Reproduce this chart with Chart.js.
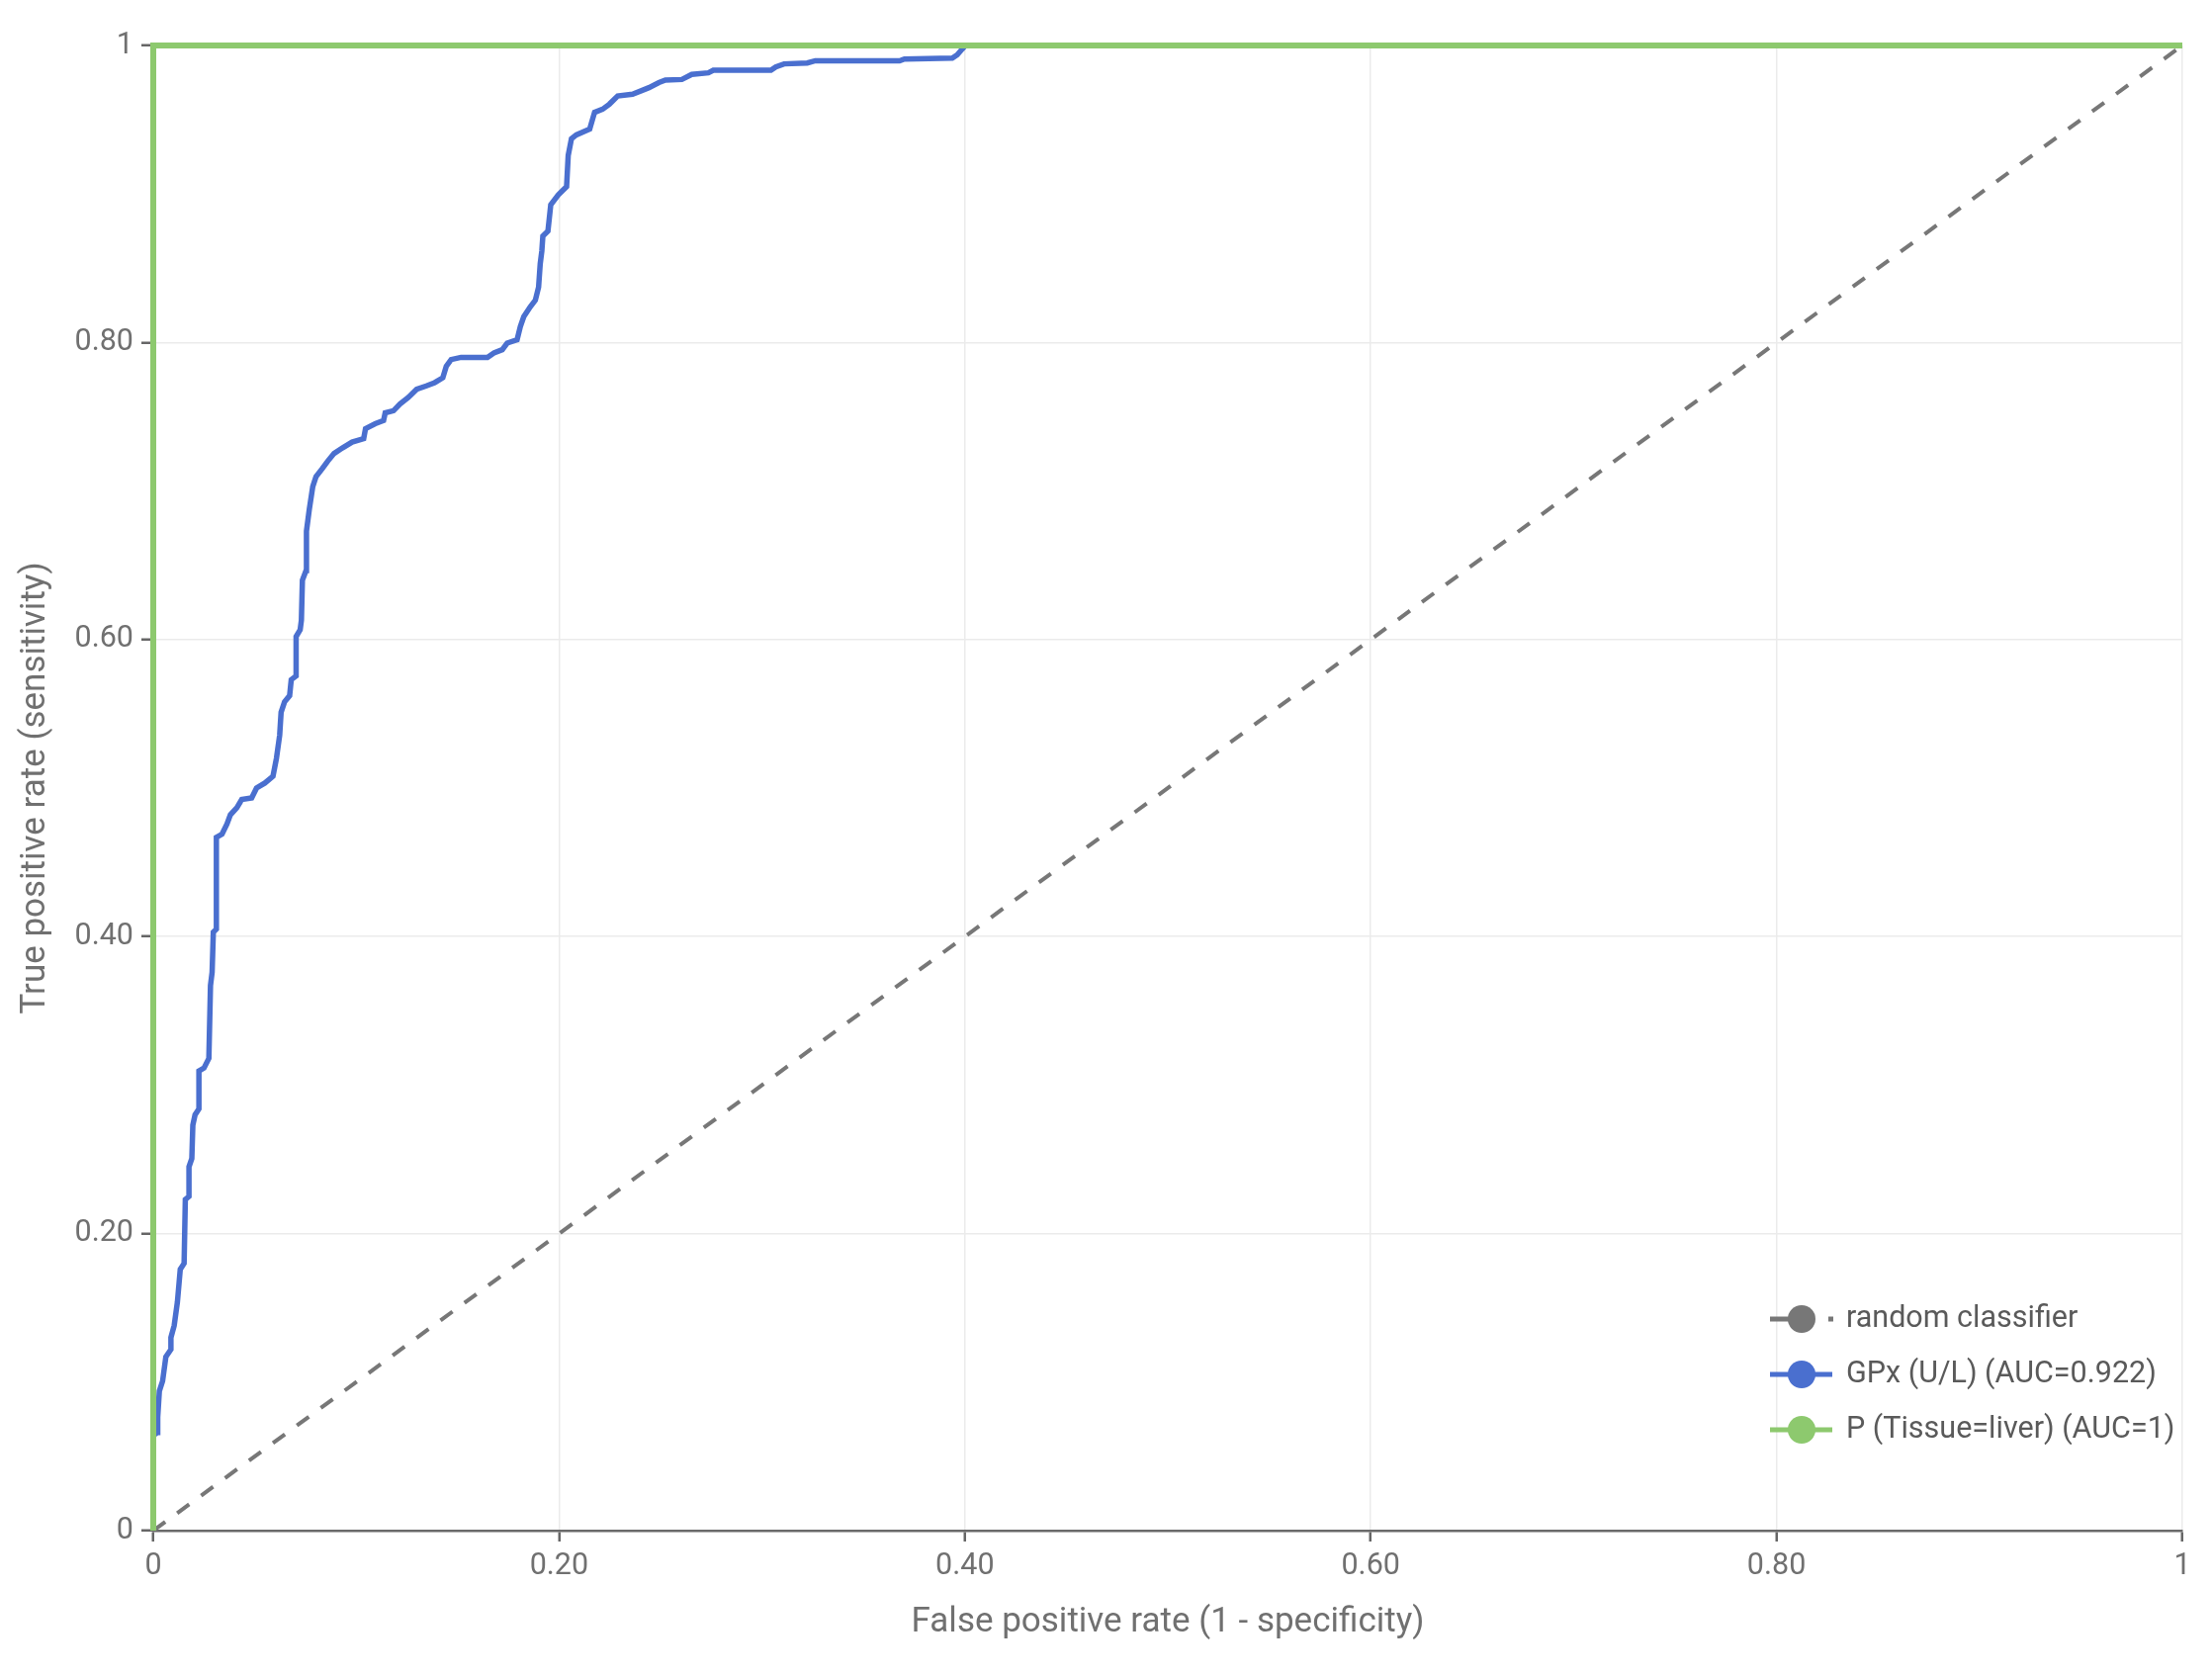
<!DOCTYPE html>
<html>
<head>
<meta charset="utf-8">
<script src="https://cdn.jsdelivr.net/npm/chart.js@4"></script>
<style>
  html, body { margin: 0; padding: 0; background: #fff; }
  #wrap { width: 2237px; height: 1694px; position: relative; }
</style>
</head>
<body>
<div id="wrap"><canvas id="c"></canvas></div>
<script>
// ---- data ----
const seriesNames = ["random classifier", "GPx (U/L) (AUC=0.922)", "P (Tissue=liver) (AUC=1)"];
const axisTicks = [0, 0.2, 0.4, 0.6, 0.8, 1];

const randomFPR = [0, 1];
const randomTPR = [0, 1];

const tissueFPR = [0, 0, 1];
const tissueTPR = [0, 1, 1];

const gpxFPR = [0, 0, 0.002, 0.0022, 0.003, 0.0046, 0.0062, 0.0087, 0.0087, 0.0103, 0.0119, 0.0133, 0.0152, 0.0158, 0.0176, 0.0176, 0.019, 0.0195, 0.0206, 0.0225, 0.0225, 0.025, 0.0274, 0.0282, 0.029, 0.0296, 0.0311, 0.0311, 0.0339, 0.0363, 0.038, 0.0412, 0.0436, 0.0485, 0.0509, 0.055, 0.059, 0.0607, 0.0623, 0.063, 0.0647, 0.0672, 0.068, 0.0704, 0.0704, 0.0724, 0.073, 0.0735, 0.0753, 0.0755, 0.0769, 0.0786, 0.0802, 0.0834, 0.0859, 0.0891, 0.0932, 0.098, 0.1037, 0.1046, 0.1094, 0.1135, 0.1143, 0.1184, 0.1216, 0.1257, 0.1298, 0.1346, 0.1387, 0.1427, 0.1444, 0.1468, 0.1517, 0.1647, 0.1679, 0.172, 0.1744, 0.1793, 0.1809, 0.1826, 0.1858, 0.1883, 0.1899, 0.1907, 0.1915, 0.192, 0.1945, 0.1959, 0.1996, 0.2037, 0.2045, 0.2061, 0.2085, 0.2151, 0.2175, 0.2215, 0.2248, 0.2289, 0.2362, 0.241, 0.2443, 0.2492, 0.2524, 0.2605, 0.2654, 0.2736, 0.276, 0.3044, 0.3068, 0.3109, 0.3223, 0.3263, 0.3678, 0.3702, 0.3938, 0.3962, 0.3986, 0.4003, 1];
const gpxTPR = [0, 0.064, 0.066, 0.0765, 0.094, 0.1007, 0.117, 0.122, 0.130, 0.138, 0.154, 0.176, 0.180, 0.223, 0.225, 0.245, 0.2505, 0.273, 0.280, 0.284, 0.3095, 0.3115, 0.318, 0.367, 0.376, 0.403, 0.405, 0.4668, 0.469, 0.4757, 0.482, 0.4868, 0.4923, 0.4934, 0.5, 0.5034, 0.508, 0.52, 0.5356, 0.551, 0.558, 0.5622, 0.573, 0.5755, 0.602, 0.6066, 0.613, 0.64, 0.6465, 0.673, 0.6876, 0.703, 0.7097, 0.7153, 0.72, 0.7253, 0.729, 0.733, 0.7353, 0.742, 0.7453, 0.7475, 0.7526, 0.7541, 0.7586, 0.763, 0.7685, 0.7708, 0.773, 0.7763, 0.784, 0.7885, 0.79, 0.79, 0.793, 0.7952, 0.7996, 0.8018, 0.8107, 0.8174, 0.824, 0.8285, 0.8373, 0.853, 0.8617, 0.8717, 0.875, 0.8928, 0.8994, 0.905, 0.926, 0.9372, 0.9398, 0.9438, 0.955, 0.9571, 0.9605, 0.966, 0.9672, 0.9698, 0.9716, 0.975, 0.9767, 0.9771, 0.9805, 0.9816, 0.9833, 0.9833, 0.9856, 0.9876, 0.9882, 0.9897, 0.9897, 0.9909, 0.9915, 0.9937, 0.9975, 1, 1];

const xTitle = "False positive rate (1 - specificity)";
const yTitle = "True positive rate (sensitivity)";

// ---- styles ----
const colGray = "#777777";
const colBlue = "#4a6fcf";
const colGreen = "#8dc96e";
const FONT = "Roboto";

function pts(xs, ys) { return xs.map((x, i) => ({ x: x, y: ys[i] })); }
function fmt(v) {
  if (Math.abs(v) < 1e-9) return "0";
  if (Math.abs(v - 1) < 1e-9) return "1";
  return v.toFixed(2);
}

const legendItems = [
  { text: seriesNames[0], color: colGray, dashed: true },
  { text: seriesNames[1], color: colBlue, dashed: false },
  { text: seriesNames[2], color: colGreen, dashed: false }
];

const legendPlugin = {
  id: "insideLegend",
  afterDraw(chart) {
    const ctx = chart.ctx;
    const x0 = 1790, x1 = 1853, cx = 1822, tx = 1867;
    const rows = [1334, 1390, 1446];
    ctx.save();
    legendItems.forEach((it, i) => {
      const y = rows[i];
      ctx.strokeStyle = it.color;
      ctx.lineWidth = 5;
      if (it.dashed) {
        ctx.beginPath(); ctx.moveTo(x0, y); ctx.lineTo(cx, y); ctx.stroke();
        ctx.beginPath(); ctx.moveTo(1849, y); ctx.lineTo(1854, y); ctx.stroke();
      } else {
        ctx.beginPath(); ctx.moveTo(x0, y); ctx.lineTo(x1, y); ctx.stroke();
      }
      ctx.fillStyle = it.color;
      ctx.beginPath(); ctx.arc(cx, y, 14, 0, Math.PI * 2); ctx.fill();
      ctx.fillStyle = "#5a5a5a";
      ctx.font = "30.5px " + FONT;
      ctx.textBaseline = "middle";
      ctx.textAlign = "left";
      ctx.fillText(it.text, tx, y);
    });
    ctx.restore();
  }
};

new Chart(document.getElementById("c"), {
  type: "line",
  data: {
    datasets: [
      { label: seriesNames[2], data: pts(tissueFPR, tissueTPR), borderColor: colGreen, backgroundColor: colGreen, borderWidth: 6, pointRadius: 0, tension: 0, fill: false, clip: 6 },
      { label: seriesNames[1], data: pts(gpxFPR, gpxTPR), borderColor: colBlue, backgroundColor: colBlue, borderWidth: 5.5, pointRadius: 0, tension: 0, fill: false, clip: 6 },
      { label: seriesNames[0], data: pts(randomFPR, randomTPR), borderColor: colGray, backgroundColor: colGray, borderWidth: 4, borderDash: [15, 15], pointRadius: 0, tension: 0, fill: false }
    ]
  },
  options: {
    responsive: true,
    maintainAspectRatio: false,
    animation: false,
    layout: { padding: { top: 46, right: 30, left: 0, bottom: 0 } },
    plugins: { legend: { display: false }, tooltip: { enabled: false } },
    scales: {
      x: {
        type: "linear", min: 0, max: 1,
        afterBuildTicks(s) { s.ticks = axisTicks.map(v => ({ value: v })); },
        afterFit(s) { s.height = 146; },
        ticks: { callback: fmt, color: "#707070", font: { family: FONT, size: 30.5 }, padding: 7, maxRotation: 0 },
        grid: { color: "#ebebeb", lineWidth: 1.5, tickLength: 11, tickColor: "#666", tickWidth: 2.5 },
        border: { color: "#6a6a6a", width: 2.5 },
        title: { display: true, text: xTitle, color: "#707070", font: { family: FONT, size: 35 }, padding: { top: 0, bottom: 32 } }
      },
      y: {
        type: "linear", min: 0, max: 1,
        afterBuildTicks(s) { s.ticks = axisTicks.map(v => ({ value: v })); },
        afterFit(s) { s.width = 155; },
        ticks: { callback: fmt, color: "#707070", font: { family: FONT, size: 30.5 }, padding: 8 },
        grid: { color: "#ebebeb", lineWidth: 1.5, tickLength: 12, tickColor: "#666", tickWidth: 2.5 },
        border: { color: "#6a6a6a", width: 2 },
        title: { display: true, text: yTitle, color: "#707070", font: { family: FONT, size: 35 }, padding: { top: 15, bottom: 0 } }
      }
    }
  },
  plugins: [legendPlugin]
});
</script>
</body>
</html>
